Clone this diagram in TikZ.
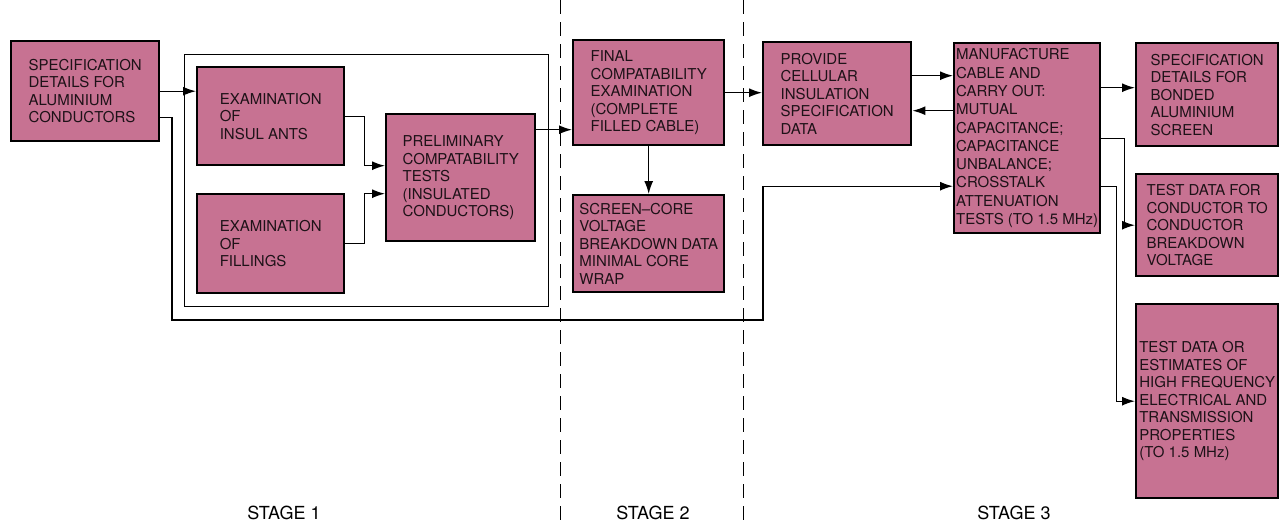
\documentclass[tikz,border=0pt]{standalone}
\usepackage{fontspec}
\setmainfont{TeX Gyre Heros}
\usetikzlibrary{arrows.meta,fit}
\definecolor{boxpink}{RGB}{199,114,146}
\definecolor{inkdark}{RGB}{30,18,24}

\tikzset{
  stagebox/.style={draw=black, fill=boxpink, line width=2.4pt, anchor=north west,
    align=left, inner sep=0pt, text=inkdark, font=\fontsize{15}{17.5}\selectfont},
  flow/.style={line width=1.4pt, -{Latex[length=13pt,width=9pt]}},
  divider/.style={line width=1pt, dash pattern=on 14pt off 8pt},
  stagelabel/.style={font=\fontsize{18}{20}\selectfont},
}

\begin{document}
\begin{tikzpicture}[x=1pt, y=-1pt]
        \useasboundingbox (0,0) rectangle (1280,525);

        % stage 1
        \node[stagebox, minimum width=148pt, minimum height=100pt] (specal) at (10,40)
            {SPECIFICATION\\DETAILS FOR\\ALUMINIUM\\CONDUCTORS};
        \node[stagebox, minimum width=147pt, minimum height=98pt] (insul) at (196,66)
            {EXAMINATION\\OF\\INSUL ANTS};
        \node[stagebox, minimum width=147pt, minimum height=99pt] (fillg) at (196,193)
            {EXAMINATION\\OF\\FILLINGS};
        \node[stagebox, minimum width=149pt, minimum height=127pt] (prelim) at (385,113)
            {PRELIMINARY\\COMPATABILITY\\TESTS\\(INSULATED\\CONDUCTORS)};
        \node[draw, line width=1pt, fit=(insul)(fillg)(prelim), inner sep=12pt] (frame) {};

        % stage 2
        \node[stagebox, minimum width=151pt, minimum height=105pt] (final) at (572,39)
            {FINAL\\COMPATABILITY\\EXAMINATION\\(COMPLETE\\FILLED CABLE)};
        \node[stagebox, minimum width=151pt, minimum height=97pt] (screen) at (572,194)
            {SCREEN--CORE\\VOLTAGE\\BREAKDOWN DATA\\MINIMAL CORE\\WRAP};

        % stage 3
        \node[stagebox, minimum width=148pt, minimum height=103pt] (provide) at (762,41)
            {PROVIDE\\CELLULAR\\INSULATION\\SPECIFICATION\\DATA};
        \node[stagebox, minimum width=146pt, minimum height=190pt,
            font=\fontsize{15}{18.3}\selectfont] (manu) at (953,42)
            {MANUFACTURE\\CABLE AND\\CARRY OUT:\\MUTUAL\\CAPACITANCE;\\CAPACITANCE\\UNBALANCE;\\CROSSTALK\\ATTENUATION\\TESTS (TO 1.5 MHz)};
        \node[stagebox, minimum width=142pt, minimum height=103pt] (bonded) at (1135,42)
            {SPECIFICATION\\DETAILS FOR\\BONDED\\ALUMINIUM\\SCREEN};
        \node[stagebox, minimum width=142pt, minimum height=102pt] (cond) at (1135,173)
            {TEST DATA FOR\\CONDUCTOR TO\\CONDUCTOR\\BREAKDOWN\\VOLTAGE};
        \node[stagebox, minimum width=142pt, minimum height=194pt] (hf) at (1135,303)
            {TEST DATA OR\\ESTIMATES OF\\HIGH FREQUENCY\\ELECTRICAL AND\\TRANSMISSION\\PROPERTIES\\(TO 1.5 MHz)};

        % stage boundaries
        \draw[divider] (560,0) -- (560,525);
        \draw[divider] (743,0) -- (743,525);

        \node[stagelabel] (st1) at (284,513) {STAGE 1};
        \node[stagelabel] (st2) at (653,513) {STAGE 2};
        \node[stagelabel] (st3) at (1014,513) {STAGE 3};

        % connectors
        \coordinate (loopa) at (172,320);
        \coordinate (loopb) at (763,320);
        \draw[flow] (specal.east) -- (specal.east -| insul.west);
        \draw[flow] ([yshift=-26pt]specal.east) -| (loopa) -- (loopb) |- ([yshift=-48pt]manu.west);
        \draw[flow] (insul.east) -- ++(19,0) |- ([yshift=12pt]prelim.west);
        \draw[flow] (fillg.east) -- ++(19,0) |- ([yshift=-16pt]prelim.west);
        \draw[flow] ([yshift=48pt]prelim.east) -- ([yshift=48pt]prelim.east -| final.west);
        \draw[flow] (final.south) -- (screen.north);
        \draw[flow] (final.east) -- (final.east -| provide.west);
        \draw[flow] ([yshift=18pt]provide.east) -- ([yshift=18pt]provide.east -| manu.west);
        \draw[flow] ([yshift=-17pt]provide.east -| manu.west) -- ([yshift=-17pt]provide.east);
        \draw[flow] ([yshift=7pt]bonded.west -| manu.east) -- ([yshift=7pt]bonded.west);
        \draw[flow] (manu.east) -- ++(23,0) |- (cond.west);
        \draw[flow] ([yshift=-48pt]manu.east) -- ++(15,0) |- (hf.west);
\end{tikzpicture}
\end{document}
